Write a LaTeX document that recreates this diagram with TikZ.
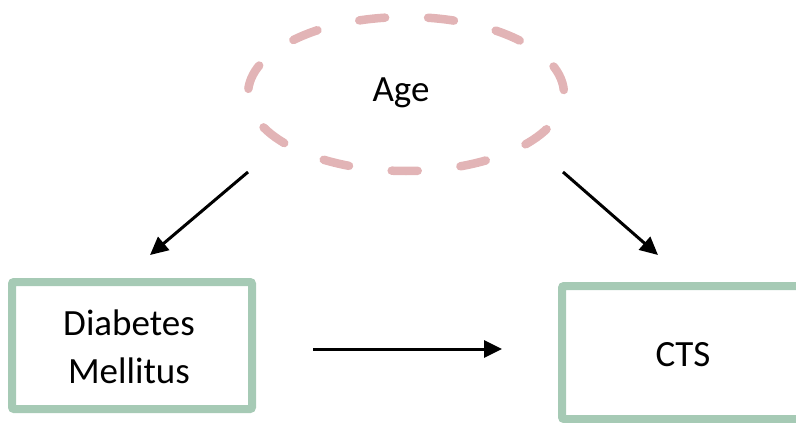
\documentclass[tikz,border=0pt]{standalone}
\usepackage{fontspec}
\setmainfont{Carlito}
\usetikzlibrary{shapes.geometric,arrows.meta}
\definecolor{dashpink}{RGB}{226,180,182}
\definecolor{boxgreen}{RGB}{166,202,181}
\tikzset{
  lbl/.style={font=\fontsize{37}{48}\selectfont, align=center, inner sep=0pt, text=black},
  greenbox/.style={draw=boxgreen, line width=8pt, rounded corners=2pt, inner sep=0pt},
  conn/.style={line width=3pt, -{Triangle[length=18pt,width=17pt]}},
}
\begin{document}
\begin{tikzpicture}[x=1pt,y=-1pt]
\useasboundingbox (0,0) rectangle (796,423);
\clip (0,0) rectangle (796,423);
\node[ellipse, draw=dashpink, line width=8.5pt, line cap=round,
      dash pattern=on 26pt off 43pt, dash phase=-4pt,
      minimum width=316pt, minimum height=154pt, inner sep=0pt] (age) at (406,94) {};
\node[lbl] (agetext) at (401,92.5) {Age};
\node[greenbox, minimum width=240pt, minimum height=127pt] (dm) at (132,345.5) {};
\node[lbl] (dmtext) at (129,346.5) {Diabetes\\Mellitus};
\node[greenbox, minimum width=242pt, minimum height=133pt] (cts) at (683,352.5) {};
\node[lbl, text height=23.8pt, text depth=0pt] (ctstext) at (683,355) {CTS};
\coordinate (a1) at (248,172);
\coordinate (a1e) at (150,255);
\coordinate (a2) at (563,172);
\coordinate (a2e) at (658,255);
\coordinate (h1) at (313,349);
\coordinate (h1e) at (502,349);
\draw[conn] (a1) -- (a1e);
\draw[conn] (a2) -- (a2e);
\draw[conn] (h1) -- (h1e);
\end{tikzpicture}
\end{document}
